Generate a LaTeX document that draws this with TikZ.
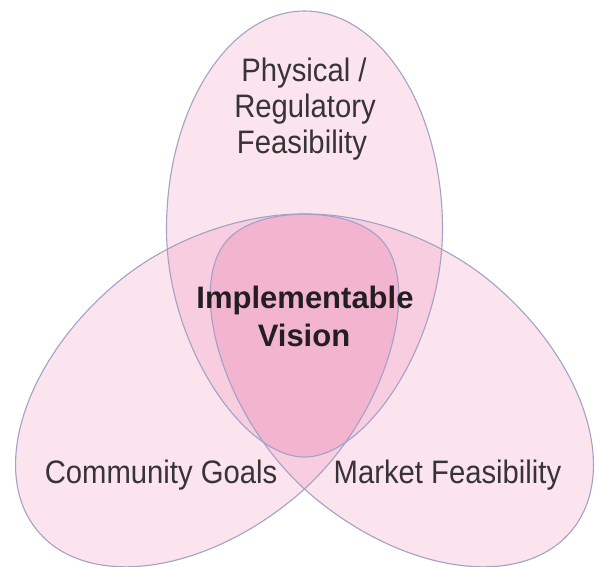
\documentclass[tikz,border=0pt]{standalone}
\usepackage{fontspec}
\newfontfamily\lblfont[FakeStretch=0.9]{Liberation Sans}
\newfontfamily\ctrfont{Liberation Sans}
\definecolor{eggA}{HTML}{FCE4EE}
\definecolor{eggB}{HTML}{F7CDDF}
\definecolor{eggC}{HTML}{F2B4CF}
\definecolor{eggstroke}{HTML}{A2A2C8}
\definecolor{labeltext}{HTML}{363434}
\definecolor{centertext}{HTML}{231F20}
\newcommand{\eggpath}{(0,-218) .. controls (76,-218) and (138,-120.4) .. (138,0) .. controls (138,114) and (62,228) .. (0,228) .. controls (-62,228) and (-138,114) .. (-138,0) .. controls (-138,-120.4) and (-76,-218) .. (0,-218) -- cycle}
\begin{document}
\begin{tikzpicture}[x=1pt,y=-1pt,
  eggline/.style={draw=eggstroke, line width=1.1pt},
  topegg/.style={shift={(304.5,229)}},
  leftegg/.style={shift={(206.5,389.6)},rotate=130,scale=1.01},
  rightegg/.style={shift={(402.5,389.6)},rotate=-130,scale=1.01},
  lbl/.style={font=\lblfont\fontsize{32.5}{36}\selectfont, text=labeltext, inner sep=0pt, anchor=base},
  ctr/.style={font=\ctrfont\bfseries\fontsize{31}{36}\selectfont, text=centertext, inner sep=0pt, anchor=base}]
\useasboundingbox (0,0) rectangle (597,567);
\fill[white] (0,0) rectangle (597,567);
% single regions
\fill[eggA, topegg] \eggpath;
\fill[eggA, leftegg] \eggpath;
\fill[eggA, rightegg] \eggpath;
% pairwise overlaps
\begin{scope}
  \clip[topegg] \eggpath;
  \fill[eggB, leftegg] \eggpath;
  \fill[eggB, rightegg] \eggpath;
\end{scope}
\begin{scope}
  \clip[leftegg] \eggpath;
  \fill[eggB, rightegg] \eggpath;
\end{scope}
% triple overlap
\begin{scope}
  \clip[topegg] \eggpath;
  \clip[leftegg] \eggpath;
  \fill[eggC, rightegg] \eggpath;
\end{scope}
% outlines
\draw[eggline, topegg] \eggpath;
\draw[eggline, leftegg] \eggpath;
\draw[eggline, rightegg] \eggpath;
% labels
\node[lbl] (phys) at (304,82) {Physical /};
\node[lbl] (regu) at (305,118) {Regulatory};
\node[lbl] (feas) at (302,153.5) {Feasibility};
\node[lbl] (comm) at (161,483) {Community Goals};
\node[lbl] (mark) at (447.5,483) {Market Feasibility};
\node[ctr] (impl) at (305,308) {Implementable};
\node[ctr] (visn) at (304,346) {Vision};
\end{tikzpicture}
\end{document}
